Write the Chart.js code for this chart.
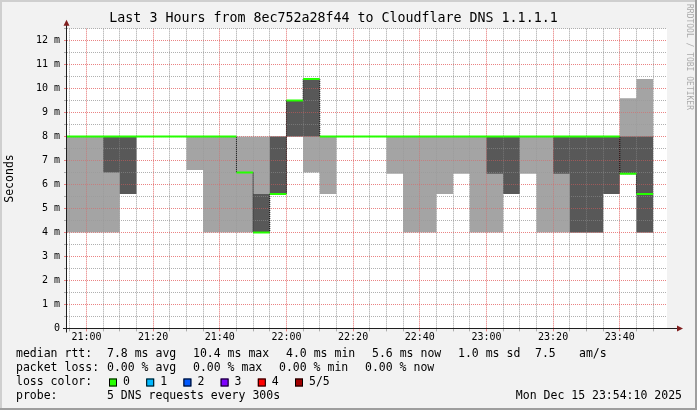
<!DOCTYPE html>
<html><head><meta charset="utf-8">
<script src="https://cdn.jsdelivr.net/npm/chart.js@4.4.1/dist/chart.umd.min.js"></script>
<style>html,body{margin:0;padding:0;background:#f2f2f2;}canvas{display:block;}</style>
</head><body>
<canvas id="c" width="697" height="410"></canvas>
<script>
// ---- data (5-minute slots, values in ms) ----
const slotStart = ['20:50','20:55','21:00','21:05','21:10','21:15','21:20','21:25','21:30','21:35',
  '21:40','21:45','21:50','21:55','22:00','22:05','22:10','22:15','22:20','22:25',
  '22:30','22:35','22:40','22:45','22:50','22:55','23:00','23:05','23:10','23:15',
  '23:20','23:25','23:30','23:35','23:40','23:45'];
const slotEnd = '23:50';
const pingMin   = [4,4,4,4,5.6,8,8,8,6.6,4, 4,4,4,5.6,8,6.5,5.6,8,8,8, 6.45,4,4,5.6,6.45,4,4,5.6,6.45,4, 4,4,4,5.6,6.45,4];
const pingLow   = [8,8,8,6.5,5.6,8,8,8,8,8, 8,6.5,4,5.6,8,8,8,8,8,8, 8,8,8,8,8,8,6.45,5.6,8,8, 6.45,4,4,5.6,6.45,4];
const medianRtt = [8,8,8,8,8,8,8,8,8,8, 8,6.5,4,5.6,9.5,10.4,8,8,8,8, 8,8,8,8,8,8,8,8,8,8, 8,8,8,8,6.45,5.6];
const pingHigh  = [8,8,8,8,8,8,8,8,8,8, 8,6.5,5.6,8,9.5,10.4,8,8,8,8, 8,8,8,8,8,8,8,8,8,8, 8,8,8,8,8,8];
const pingMax   = [8,8,8,8,8,8,8,8,8,8, 8,8,8,8,9.5,10.4,8,8,8,8, 8,8,8,8,8,8,8,8,8,8, 8,8,8,8,9.6,10.4];
const graphStart = '20:54:10', graphEnd = '23:54:10';
const xTickLabels = ['21:00','21:20','21:40','22:00','22:20','22:40','23:00','23:20','23:40'];
const yTickLabels = ['0','1 m','2 m','3 m','4 m','5 m','6 m','7 m','8 m','9 m','10 m','11 m','12 m'];
const titleText = 'Last 3 Hours from 8ec752a28f44 to Cloudflare DNS 1.1.1.1';
const rttStats  = ['median rtt:','7.8 ms avg','10.4 ms max','4.0 ms min','5.6 ms now','1.0 ms sd','7.5','am/s'];
const lossStats = ['packet loss:','0.00 % avg','0.00 % max','0.00 % min','0.00 % now'];
const lossLabels = ['0','1','2','3','4','5/5'];
const lossColors = ['#26ff00','#00b8ff','#0059ff','#7e00ff','#ff0000','#a10000'];
const probeText = ['probe:','5 DNS requests every 300s'];
const dateText = 'Mon Dec 15 23:54:10 2025';

// ---- helpers ----
function toMin(s){const p=s.split(':').map(Number);return p[0]*60+p[1]+(p[2]||0)/60-21*60;}
function stepData(vals){
  const pts = slotStart.map((t,i)=>({x:toMin(t),y:vals[i]}));
  pts.push({x:toMin(slotEnd),y:vals[vals.length-1]});
  return pts;
}
const medSegs=[];
slotStart.forEach((t,i)=>{
  const a=toMin(t), b=i+1<slotStart.length?toMin(slotStart[i+1]):toMin(slotEnd);
  medSegs.push({x:a,y:medianRtt[i]},{x:b,y:medianRtt[i]},{x:b,y:null});
});
const MONO='"DejaVu Sans Mono", monospace';
Chart.defaults.font.family=MONO;
const MAJ='rgba(228,90,90,0.5)', MIN='rgba(150,150,150,0.5)';

const deco={
  id:'deco',
  beforeDraw(chart){
    const c=chart.ctx,a=chart.chartArea,W=chart.width,H=chart.height;
    c.save();
    c.fillStyle='#f2f2f2';c.fillRect(0,0,W,H);
    c.fillStyle='#cfcfcf';c.fillRect(0,0,W,2);c.fillRect(0,0,2,H);
    c.fillStyle='#9e9e9e';c.fillRect(0,H-2,W,2);c.fillRect(W-2,0,2,H);
    c.fillStyle='#ffffff';c.fillRect(a.left,a.top,a.right-a.left,a.bottom-a.top);
    c.restore();
  },
  afterDatasetDraw(chart,args){
    if(args.index===3){chart.scales.x.drawGrid(chart.chartArea);chart.scales.y.drawGrid(chart.chartArea);}
  },
  afterDraw(chart){
    const c=chart.ctx,a=chart.chartArea;
    const y0=Math.round(a.bottom)+0.5, x0=Math.round(a.left)-0.5;
    c.save();
    c.strokeStyle='#1f1f1f';c.lineWidth=1;
    c.beginPath();c.moveTo(a.left-4,y0);c.lineTo(a.right+12,y0);c.stroke();
    c.beginPath();c.moveTo(x0,y0+4);c.lineTo(x0,a.top-6);c.stroke();
    c.fillStyle='#801f1f';
    c.beginPath();c.moveTo(x0,a.top-9);c.lineTo(x0-3,a.top-3);c.lineTo(x0+3,a.top-3);c.closePath();c.fill();
    c.beginPath();c.moveTo(a.right+16,y0);c.lineTo(a.right+10,y0-3);c.lineTo(a.right+10,y0+3);c.closePath();c.fill();
    // watermark
    c.save();c.translate(689,4);c.rotate(Math.PI/2);
    c.font='8px '+MONO;c.fillStyle='#ababab';c.textBaseline='middle';c.textAlign='left';
    c.fillText('RRDTOOL / TOBI OETIKER',0,0);c.restore();
    // legend
    c.font='11.5px '+MONO;c.fillStyle='#000';c.textBaseline='middle';c.textAlign='left';
    const r1=[16,107,193,286,372,458,535,579];
    rttStats.forEach((t,i)=>c.fillText(t,r1[i],354.5));
    const r2=[16,107,193,279,365];
    lossStats.forEach((t,i)=>c.fillText(t,r2[i],368.5));
    c.fillText('loss color:',16,382.5);
    lossLabels.forEach((t,i)=>{
      const bx=109+i*37.2;
      c.fillStyle=lossColors[i];c.fillRect(bx,378.5,8,8);
      c.strokeStyle='#000';c.lineWidth=1;c.strokeRect(bx+0.5,379,7,7);
      c.fillStyle='#000';c.fillText(t,bx+14,382.5);
    });
    c.fillText(probeText[0],16,396.5);
    c.fillText(probeText[1],107,396.5);
    c.textAlign='right';c.fillText(dateText,682,396.5);
    c.restore();
  }
};

const base={pointRadius:0,pointHoverRadius:0,clip:0,tension:0};
new Chart(document.getElementById('c'),{
  type:'line',
  data:{datasets:[
    Object.assign({label:'p1',data:stepData(pingMin),stepped:true,borderWidth:0,borderColor:'rgba(0,0,0,0)',fill:false,order:10},base),
    Object.assign({label:'p5',data:stepData(pingMax),stepped:true,borderWidth:0,borderColor:'rgba(0,0,0,0)',backgroundColor:'#a4a4a4',fill:'-1',order:9},base),
    Object.assign({label:'p2',data:stepData(pingLow),stepped:true,borderWidth:0,borderColor:'rgba(0,0,0,0)',fill:false,order:8},base),
    Object.assign({label:'p4',data:stepData(pingHigh),stepped:true,borderWidth:0,borderColor:'rgba(0,0,0,0)',backgroundColor:'#585858',fill:'-1',order:7},base),
    Object.assign({label:'median-step',data:stepData(medianRtt),stepped:true,borderWidth:1,borderColor:'#000',borderDash:[1,1],fill:false,order:6},base),
    Object.assign({label:'median',data:medSegs,borderWidth:2,borderColor:lossColors[0],borderCapStyle:'butt',spanGaps:false,fill:false,order:5},base)
  ]},
  options:{
    responsive:false,animation:false,devicePixelRatio:1,events:[],
    layout:{padding:{left:0,right:30,top:0,bottom:0}},
    plugins:{
      legend:{display:false},tooltip:{enabled:false},
      title:{display:true,text:titleText,color:'#000',font:{family:MONO,size:13.3,weight:'normal'},padding:{top:11,bottom:1.74}}
    },
    scales:{
      x:{type:'linear',min:toMin(graphStart),max:toMin(graphEnd),
        afterFit(s){s.height=81.7;},
        afterBuildTicks(s){const t=[];for(let m=-5;m<=170;m+=5)t.push({value:m});s.ticks=t;},
        grid:{color:c=>c.tick&&c.tick.value%20===0?MAJ:MIN,lineWidth:1,tickLength:3,drawTicks:true},
        border:{display:false,dash:[1,1]},
        ticks:{autoSkip:false,maxRotation:0,padding:0,color:'#000',font:{size:10},
          callback:v=>(v%20===0&&v>=0)?xTickLabels[v/20]:''}
      },
      y:{type:'linear',min:0,max:12.5,
        afterFit(s){s.width=67;},
        afterBuildTicks(s){const t=[];for(let v=0;v<=12.5;v+=0.5)t.push({value:v});s.ticks=t;},
        grid:{color:c=>!c.tick||c.tick.value===0?'rgba(0,0,0,0)':(Number.isInteger(c.tick.value)?MAJ:MIN),lineWidth:1,tickLength:3},
        border:{display:false,dash:[1,1]},
        ticks:{autoSkip:false,padding:4,color:'#000',font:{size:10},
          callback:v=>Number.isInteger(v)?yTickLabels[v]:''},
        title:{display:true,text:'Seconds',color:'#000',font:{family:MONO,size:11.5},padding:{top:3,bottom:0}}
      }
    }
  },
  plugins:[deco]
});
</script>
</body></html>
